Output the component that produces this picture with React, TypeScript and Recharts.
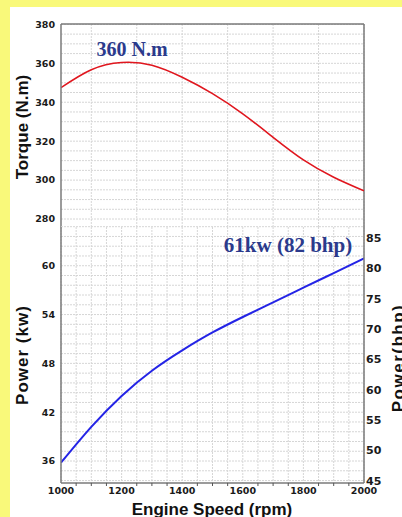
import React from "react";
import { CartesianGrid, Line, LineChart, ReferenceLine, XAxis, YAxis } from "recharts";

// engine speed samples (rpm)
const rpm = [1000, 1100, 1200, 1300, 1400, 1500, 1600, 1700, 1800, 1900, 2000];
// torque curve, N.m
const torqueNm = [347.5, 356.7, 360.4, 359.0, 352.8, 344.4, 334.0, 322.0, 310.4, 301.5, 294.5];
// power curve, kW
const powerKw = [35.8, 40.2, 44.0, 47.1, 49.6, 51.8, 53.7, 55.5, 57.3, 59.1, 60.9];

const torqueTicks = [280, 300, 320, 340, 360, 380];
const kwTicks = [36, 42, 48, 54, 60];
const bhpTicks = [45, 50, 55, 60, 65, 70, 75, 80, 85];
const rpmLabels = [1000, 1200, 1400, 1600, 1800, 2000];
const rpmTicks = [
  1000, 1050, 1100, 1150, 1200, 1250, 1300, 1350, 1400, 1450, 1500,
  1550, 1600, 1650, 1700, 1750, 1800, 1850, 1900, 1950, 2000,
];

const KW_TO_BHP = 1.341;
const TORQUE_DOMAIN: [number, number] = [275.9, 380.2];
const KW_DOMAIN: [number, number] = [33.3, 64.76];
const BHP_DOMAIN: [number, number] = [KW_DOMAIN[0] * KW_TO_BHP, KW_DOMAIN[1] * KW_TO_BHP];

const steps = (from: number, to: number, step: number) => {
  const out: number[] = [];
  for (let v = from; v <= to + 1e-6; v += step) out.push(Number(v.toFixed(2)));
  return out;
};
const torqueGrid = steps(280, 380, 5);
const kwGrid = steps(33.6, 64.8, 1.2);

const torqueData = rpm.map((r, i) => ({ rpm: r, torque: torqueNm[i] }));
const powerData = rpm.map((r, i) => ({ rpm: r, power: powerKw[i] }));

const AXIS = { stroke: "#7a7a7a", strokeWidth: 1.5 };
const GRID = "#d6d6d6";
const tickFont = {
  fontFamily: "DejaVu Sans",
  fontWeight: 700,
  fontSize: 9.5,
  fill: "#1a1a1a",
};
const titleFont = {
  fontFamily: "Liberation Sans",
  fontWeight: 700,
  fontSize: 17,
  fill: "#111",
};
const noteFont = {
  fontFamily: "Liberation Serif",
  fontWeight: 700,
  fill: "#2b3a8c",
};

const RpmTick = (props: any) => {
  const { x, y, payload } = props;
  const value = payload.value;
  if (rpmLabels.includes(value)) {
    return (
      <text x={x} y={y + 11} textAnchor="middle" {...tickFont}>
        {value}
      </text>
    );
  }
  return <line x1={x} x2={x} y1={y} y2={y + 3} stroke="#555" strokeWidth={1} />;
};

export default function App() {
  return (
    <div
      style={{
        position: "absolute",
        left: 0,
        top: 0,
        width: 402,
        height: 517,
        overflow: "hidden",
        background: "#f9f97a",
      }}
    >
      <div style={{ position: "absolute", left: 10, top: 7, right: 0, bottom: 0, background: "#fff" }} />

      <div style={{ position: "absolute", left: 0, top: 0 }}>
        <LineChart width={402} height={227} data={torqueData} margin={{ top: 24, right: 38, bottom: 0, left: 0 }}>
          <CartesianGrid
            stroke={GRID}
            strokeDasharray="2 1"
            horizontalValues={torqueGrid}
            verticalValues={rpmTicks}
          />
          <XAxis dataKey="rpm" type="number" domain={[1000, 2000]} ticks={rpmTicks} hide allowDataOverflow />
          <YAxis
            type="number"
            domain={TORQUE_DOMAIN}
            ticks={torqueTicks}
            allowDataOverflow
            interval={0}
            width={61}
            tickLine={false}
            tickSize={0}
            tickMargin={6}
            axisLine={AXIS}
            tick={tickFont}
          />
          <ReferenceLine x={2000} stroke="#7a7a7a" strokeWidth={1.5} />
          <ReferenceLine y={TORQUE_DOMAIN[1]} stroke="#7a7a7a" strokeWidth={1.5} />
          <Line
            dataKey="torque"
            type="natural"
            stroke="#e0161e"
            strokeWidth={1.6}
            dot={false}
            isAnimationActive={false}
          />
        </LineChart>
      </div>

      <div style={{ position: "absolute", left: 0, top: 217 }}>
        <LineChart width={402} height={300} data={powerData} margin={{ top: 10, right: 0, bottom: 0, left: 0 }}>
          <CartesianGrid
            stroke={GRID}
            strokeDasharray="2 1"
            yAxisId="kw"
            horizontalValues={kwGrid}
            verticalValues={rpmTicks}
          />
          <XAxis
            dataKey="rpm"
            type="number"
            domain={[1000, 2000]}
            ticks={rpmTicks}
            interval={0}
            allowDataOverflow
            height={34}
            tickLine={false}
            tickSize={0}
            tickMargin={0}
            axisLine={AXIS}
            tick={<RpmTick />}
          />
          <YAxis
            yAxisId="kw"
            type="number"
            domain={KW_DOMAIN}
            ticks={kwTicks}
            allowDataOverflow
            interval={0}
            width={61}
            tickLine={false}
            tickSize={0}
            tickMargin={6}
            axisLine={AXIS}
            tick={tickFont}
          />
          <YAxis
            yAxisId="bhp"
            orientation="right"
            type="number"
            domain={BHP_DOMAIN}
            ticks={bhpTicks}
            allowDataOverflow
            interval={0}
            width={38}
            tickLine={false}
            tickSize={0}
            tickMargin={2}
            axisLine={AXIS}
            tick={{ ...tickFont, fontSize: 11 }}
          />
          <Line
            yAxisId="kw"
            dataKey="power"
            type="natural"
            stroke="#2424e6"
            strokeWidth={2}
            dot={false}
            isAnimationActive={false}
          />
        </LineChart>
      </div>

      <svg
        width={402}
        height={517}
        style={{ position: "absolute", left: 0, top: 0, pointerEvents: "none" }}
      >
        <text x={28} y={127} textAnchor="middle" transform="rotate(-90 28 127)" {...titleFont}>
          Torque (N.m)
        </text>
        <text
          x={28}
          y={355}
          textAnchor="middle"
          transform="rotate(-90 28 355)"
          letterSpacing={1}
          {...titleFont}
        >
          Power (kw)
        </text>
        <text
          x={404}
          y={358}
          textAnchor="middle"
          transform="rotate(-90 404 358)"
          letterSpacing={1.5}
          {...titleFont}
        >
          Power(bhp)
        </text>
        <text x={212} y={515} textAnchor="middle" {...titleFont}>
          Engine Speed (rpm)
        </text>
        <text x={132} y={56} textAnchor="middle" fontSize={20} {...noteFont}>
          360 N.m
        </text>
        <text x={288} y={252} textAnchor="middle" fontSize={21} {...noteFont}>
          61kw (82 bhp)
        </text>
      </svg>
    </div>
  );
}
